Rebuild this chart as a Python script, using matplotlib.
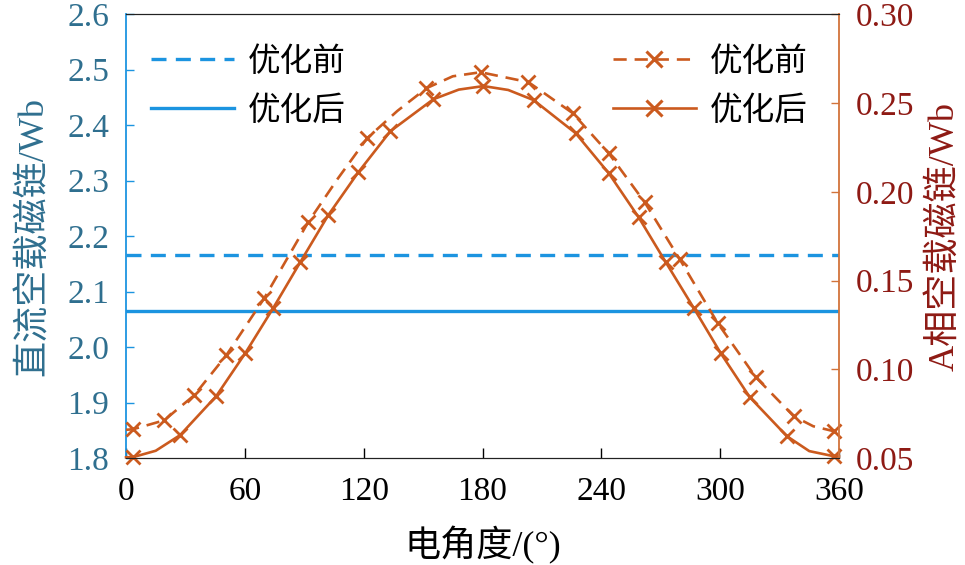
import matplotlib
matplotlib.use("Agg")
import matplotlib.pyplot as plt
from matplotlib.lines import Line2D

plt.rcParams['font.family'] = ['Liberation Serif', 'Noto Sans CJK SC', 'DejaVu Sans']
plt.rcParams['axes.unicode_minus'] = False

# ---- data ----
dc_before = 2.166   # 直流空载磁链 优化前 (Wb)
dc_after = 2.065    # 直流空载磁链 优化后 (Wb)

theta_before = [0, 3.5, 19.2, 34.4, 50.6, 69.8, 92.0, 107, 121.8, 137, 151.7, 165, 179.0,
                203.2, 225.5, 243.7, 261.9, 279.6, 298.8, 318.0, 337.2, 347, 357.4, 360]
phase_before = [0.0660, 0.0663, 0.0713, 0.0854, 0.1079, 0.1401, 0.1829, 0.2075, 0.2302, 0.2455,
                0.2583, 0.2650, 0.2673, 0.2617, 0.2443, 0.2217, 0.1941, 0.1620, 0.1260, 0.0956,
                0.0736, 0.0680, 0.0652, 0.0652]
marks_before = [1, 2, 3, 4, 5, 6, 8, 10, 12, 13, 14, 15, 16, 17, 18, 19, 20, 22]

theta_after = [0, 3.5, 15, 27.3, 45.5, 60.2, 74.3, 88.0, 102.1, 117.3, 133.5, 155.2, 168, 180.5,
               193, 205.8, 227.0, 243.7, 258.8, 272.5, 286.7, 300.3, 315.0, 333.7, 345, 357.4, 360]
phase_after = [0.0505, 0.0506, 0.0542, 0.0630, 0.0849, 0.1091, 0.1345, 0.1604, 0.1868, 0.2110,
               0.2341, 0.2521, 0.2575, 0.2595, 0.2573, 0.2516, 0.2330, 0.2105, 0.1857, 0.1604,
               0.1345, 0.1091, 0.0843, 0.0624, 0.0540, 0.0511, 0.0510]
marks_after = [1, 3, 4, 5, 6, 7, 8, 9, 10, 11, 13, 15, 16, 17, 18, 19, 20, 21, 22, 23, 25]

xticks = [0, 60, 120, 180, 240, 300, 360]
left_ticks = [1.8, 1.9, 2.0, 2.1, 2.2, 2.3, 2.4, 2.5, 2.6]
right_ticks = [0.05, 0.10, 0.15, 0.20, 0.25, 0.30]
legend_labels = ['优化前', '优化后']

# ---- style ----
blue = '#1C94E0'
left_txt = '#2F6F8F'
orange = '#CB5A1E'
right_spine = '#D2733A'
right_txt = '#8E1A14'
tick_fs = 24
label_fs = 26
leg_fs = 23.5

fig = plt.figure(figsize=(9.65, 5.65), dpi=100)
ax = fig.add_axes([0.1306, 0.189, 0.7388, 0.786])
ax2 = ax.twinx()

ax.axhline(dc_before, color=blue, lw=2.4, ls=(0, (4.5, 2.8)))
ax.axhline(dc_after, color=blue, lw=2.4, ls='-')

ax2.plot(theta_before, phase_before, color=orange, lw=1.9, ls=(0, (5, 3)),
         marker='x', markersize=10.5, markeredgewidth=2, markevery=marks_before, clip_on=False)
ax2.plot(theta_after, phase_after, color=orange, lw=1.9, ls='-',
         marker='x', markersize=10.5, markeredgewidth=2, markevery=marks_after, clip_on=False)

ax.set_xlim(0, 360)
ax.set_ylim(1.8, 2.6)
ax2.set_ylim(0.05, 0.30)
ax.set_xticks(xticks)
ax.set_yticks(left_ticks)
ax.set_yticklabels([f'{v:.1f}' for v in left_ticks])
ax2.set_yticks(right_ticks)
ax2.set_yticklabels([f'{v:.2f}' for v in right_ticks])

ax.tick_params(axis='x', direction='in', length=7, width=1, labelsize=tick_fs, colors='black', pad=13)
ax.tick_params(axis='y', direction='in', length=6, width=1, labelsize=tick_fs, color=blue,
               labelcolor=left_txt, pad=12)
ax2.tick_params(axis='y', direction='in', length=6, width=1, labelsize=tick_fs, color=right_spine,
                labelcolor=right_txt, pad=12)

ax.spines['left'].set_color(blue)
ax.spines['left'].set_linewidth(1.3)
ax.spines['right'].set_visible(False)
ax2.spines['left'].set_visible(False)
ax2.spines['right'].set_color(right_spine)
ax2.spines['right'].set_linewidth(1.3)
for a in (ax, ax2):
    a.spines['top'].set_color('#222222')
    a.spines['bottom'].set_color('#222222')

ax.set_xlabel('电角度/(°)', fontsize=label_fs, labelpad=14)
ax.set_ylabel('直流空载磁链/Wb', fontsize=label_fs, color=left_txt, labelpad=12)
ax2.set_ylabel('A相空载磁链/Wb', fontsize=label_fs, color=right_txt, labelpad=10)

h1 = [Line2D([], [], color=blue, lw=2.4, ls=(0, (4.5, 2.8))),
      Line2D([], [], color=blue, lw=2.4, ls='-')]
leg1 = ax.legend(h1, legend_labels, loc='upper left', bbox_to_anchor=(0.017, 0.955),
                 frameon=False, fontsize=leg_fs, handlelength=2.55, handletextpad=0.42,
                 labelspacing=0.55, borderaxespad=0)
h2 = [Line2D([], [], color=orange, lw=1.9, ls=(0, (5, 3)), marker='x', markersize=12,
             markeredgewidth=2.2),
      Line2D([], [], color=orange, lw=1.9, ls='-', marker='x', markersize=12,
             markeredgewidth=2.2)]
leg2 = ax2.legend(h2, legend_labels, loc='upper right', bbox_to_anchor=(0.974, 0.955),
                  frameon=False, fontsize=leg_fs, handlelength=2.55, handletextpad=0.42,
                  labelspacing=0.55, borderaxespad=0)

fig.savefig('out.png', dpi=100)
